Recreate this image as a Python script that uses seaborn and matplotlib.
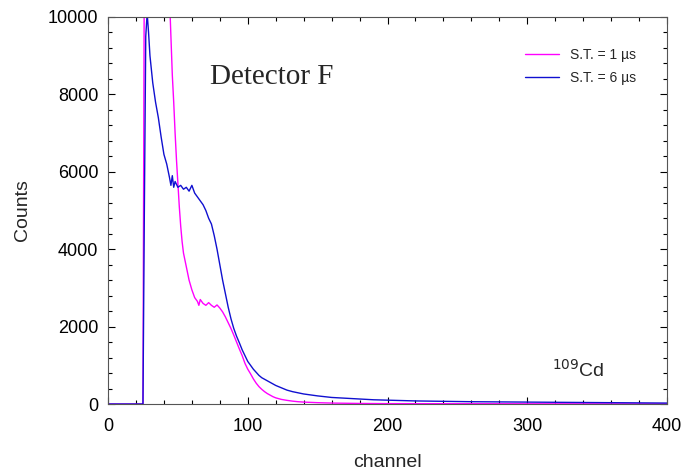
import numpy as np
import pandas as pd
import matplotlib
matplotlib.use("Agg")
import matplotlib.pyplot as plt
import seaborn as sns
from matplotlib.ticker import MultipleLocator

# Data (channel, counts)
ch_st1 = [0, 10, 20, 24, 25, 26, 28, 32, 36, 40, 44, 45, 46, 47, 48, 49, 50, 51, 52, 53, 54, 56, 58, 60,
          62, 64, 65, 66, 68, 70, 72, 74, 76, 78, 80, 82, 84, 86, 88, 90, 92, 94, 96, 98, 100,
          102, 104, 106, 108, 110, 112, 114, 116, 118, 120, 124, 128, 132, 136, 140, 150, 160,
          180, 200, 250, 300, 350, 400]
cnt_st1 = [0, 0, 0, 0, 0, 12000, 40000, 45000, 35000, 22000, 10500, 9500, 8500, 7800, 7000, 6300, 5700,
           5100, 4600, 4200, 3900, 3550, 3200, 2950, 2750, 2650, 2550, 2700, 2600, 2550, 2620, 2550,
           2500, 2560, 2480, 2380, 2250, 2100, 1950, 1780, 1600, 1420, 1250, 1050, 900, 780, 650,
           540, 450, 380, 320, 270, 230, 190, 160, 120, 95, 75, 60, 50, 35, 25, 15, 10, 8, 6, 5, 5]

ch_st6 = [0, 10, 20, 24, 25, 26, 27, 28, 29, 30, 32, 34, 36, 38, 40, 42, 44, 45, 46, 47, 48, 50, 52, 54,
          56, 58, 60, 62, 64, 66, 68, 70, 72, 74, 76, 78, 80, 82, 84, 86, 88, 90, 92, 94, 96, 98,
          100, 102, 104, 106, 108, 110, 112, 114, 116, 118, 120, 124, 128, 132, 136, 140, 150, 160,
          170, 180, 190, 200, 220, 240, 260, 280, 300, 320, 340, 360, 380, 400]
cnt_st6 = [0, 0, 0, 0, 0, 5000, 9500, 10100, 9600, 9000, 8300, 7800, 7400, 6900, 6450, 6200, 5850, 5650,
           5900, 5600, 5750, 5600, 5650, 5550, 5600, 5500, 5650, 5450, 5350, 5250, 5150, 5000, 4800,
           4650, 4350, 4000, 3600, 3200, 2850, 2500, 2200, 1950, 1750, 1580, 1400, 1250, 1100, 1000,
           900, 820, 740, 680, 640, 600, 560, 520, 480, 420, 360, 320, 290, 260, 210, 170, 150, 130,
           110, 100, 80, 70, 60, 55, 50, 45, 40, 35, 30, 25]

labels = ["S.T. = 1 \u00b5s", "S.T. = 6 \u00b5s"]
colors = ["#FF00FF", "#1010D0"]

df = pd.concat([
    pd.DataFrame({"channel": ch_st1, "Counts": cnt_st1, "series": labels[0]}),
    pd.DataFrame({"channel": ch_st6, "Counts": cnt_st6, "series": labels[1]}),
])

sns.set_style("ticks")
plt.rcParams["font.family"] = ["Liberation Sans", "DejaVu Sans"]

fig = plt.figure(figsize=(6.82, 4.72), dpi=100)
ax = fig.add_axes([0.1584, 0.144, 0.8196, 0.820])

sns.lineplot(data=df, x="channel", y="Counts", hue="series", palette=colors,
             linewidth=1.0, ax=ax, sort=False, estimator=None)

ax.set_xlim(0, 400)
ax.set_ylim(0, 10000)
ax.xaxis.set_major_locator(MultipleLocator(100))
ax.xaxis.set_minor_locator(MultipleLocator(20))
ax.yaxis.set_major_locator(MultipleLocator(2000))
ax.yaxis.set_minor_locator(MultipleLocator(400))
ax.tick_params(which="both", direction="in", top=True, right=True, labelsize=13, colors="black")
ax.tick_params(which="major", length=5, width=0.8)
ax.tick_params(which="minor", length=3, width=0.8)
ax.tick_params(axis="x", which="major", pad=10)
ax.tick_params(axis="y", which="major", pad=7)
for s in ax.spines.values():
    s.set_linewidth(0.8)
    s.set_color("#555555")

ax.set_xlabel("channel", fontsize=14, labelpad=14)
ax.set_ylabel("Counts", fontsize=14, labelpad=12)

ax.text(0.182, 0.828, "Detector F", transform=ax.transAxes, fontsize=21,
        family=["Liberation Serif", "DejaVu Serif"])
ax.text(0.795, 0.07, r"$^{109}$Cd", transform=ax.transAxes, fontsize=14)

leg = ax.legend(loc="upper right", bbox_to_anchor=(0.967, 0.952), frameon=False, fontsize=10,
                handlelength=2.4, handletextpad=0.8, labelspacing=0.65, title=None)

fig.savefig("out.png", dpi=100)
